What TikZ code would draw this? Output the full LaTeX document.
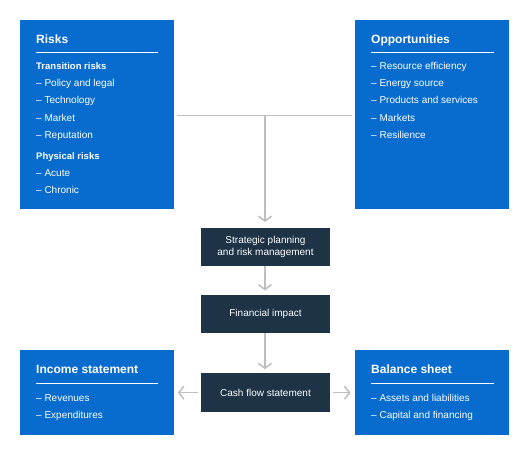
\documentclass[tikz,border=0pt]{standalone}
\usepackage{fontspec}
\setmainfont{Liberation Sans}
\usetikzlibrary{arrows.meta}
\definecolor{tcfdblue}{RGB}{7,108,206}
\definecolor{tcfdnavy}{RGB}{30,51,70}
\definecolor{conngray}{RGB}{190,190,190}
\begin{document}
\begin{tikzpicture}[x=1pt,y=-1pt,
  bluebox/.style={fill=tcfdblue,draw=none,minimum width=154pt,anchor=north west,inner sep=0pt},
  darkbox/.style={fill=tcfdnavy,draw=none,minimum width=129pt,minimum height=38.5pt,text=white,align=center,inner sep=0pt,font=\fontsize{10}{12.5}\selectfont},
  boxtitle/.style={anchor=base west,text=white,inner sep=0pt,font=\fontsize{12}{14}\selectfont\bfseries},
  subhead/.style={anchor=base west,text=white,inner sep=0pt,font=\fontsize{9.5}{11}\selectfont\bfseries},
  itemtext/.style={anchor=base west,text=white,inner sep=0pt,font=\fontsize{10}{12}\selectfont},
  titlerule/.style={draw=white,line width=1.5pt},
  conn/.style={draw=conngray,line width=1.5pt},
  connarrow/.style={conn,-{Straight Barb[length=5pt,width=13pt,line width=1.5pt]}}
]
\useasboundingbox (0,0) rectangle (528,453);
\fill[white] (0,0) rectangle (528,453);

% Blue boxes
\node[bluebox,minimum height=189pt] (risks) at (20,20) {};
\node[bluebox,minimum height=189pt] (opp) at (355,20) {};
\node[bluebox,minimum height=85pt] (inc) at (20,350) {};
\node[bluebox,minimum height=85pt] (bal) at (355,350) {};

% Dark boxes
\node[darkbox] (strat) at (265.5,247) {Strategic planning\\and risk management};
\node[darkbox] (fin) at (265.5,314) {Financial impact};
\node[darkbox] (cash) at (265.5,392.7) {Cash flow statement};

% Risks content
\node[boxtitle] (risksT) at (36,43) {Risks};
\draw[titlerule] (36,52.3) coordinate (r1) -- (158,52.3) coordinate (r2);
\node[subhead] (tr) at (36,69.5) {Transition risks};
\node[itemtext] (r_a) at (36,86.8) {– Policy and legal};
\node[itemtext] (r_b) at (36,103.9) {– Technology};
\node[itemtext] (r_c) at (36,121) {– Market};
\node[itemtext] (r_d) at (36,138.2) {– Reputation};
\node[subhead] (pr) at (36,159.2) {Physical risks};
\node[itemtext] (r_e) at (36,176.8) {– Acute};
\node[itemtext] (r_f) at (36,193.8) {– Chronic};

% Opportunities content
\node[boxtitle] (oppT) at (371,43) {Opportunities};
\draw[titlerule] (371,52.3) coordinate (o1) -- (493.5,52.3) coordinate (o2);
\node[itemtext] (o_a) at (371,69.5) {– Resource efficiency};
\node[itemtext] (o_b) at (371,86.8) {– Energy source};
\node[itemtext] (o_c) at (371,103.9) {– Products and services};
\node[itemtext] (o_d) at (371,121) {– Markets};
\node[itemtext] (o_e) at (371,138.2) {– Resilience};

% Income statement content
\node[boxtitle] (incT) at (36,373.6) {Income statement};
\draw[titlerule] (36,383.3) coordinate (i1) -- (158,383.3) coordinate (i2);
\node[itemtext] (i_a) at (36,401.8) {– Revenues};
\node[itemtext] (i_b) at (36,418.8) {– Expenditures};

% Balance sheet content
\node[boxtitle] (balT) at (371,373.6) {Balance sheet};
\draw[titlerule] (371,383.3) coordinate (b1) -- (493.5,383.3) coordinate (b2);
\node[itemtext] (b_a) at (371,401.8) {– Assets and liabilities};
\node[itemtext] (b_b) at (371,418.8) {– Capital and financing};

% Connectors
\coordinate (j) at (265,115.7);
\draw[conn] ([xshift=3pt]risks.east |- j) -- ([xshift=-3pt]opp.west |- j);
\draw[connarrow] (j) -- ([yshift=5.5pt]strat.north -| j);
\draw[connarrow] (strat.south -| j) -- ([yshift=4pt]fin.north -| j);
\draw[connarrow] (fin.south -| j) -- ([yshift=4pt]cash.north -| j);
\draw[connarrow] ([xshift=-3pt]cash.west) -- ([xshift=3.5pt]inc.east |- cash.west);
\draw[connarrow] ([xshift=3pt]cash.east) -- ([xshift=-4.5pt]bal.west |- cash.east);
\end{tikzpicture}
\end{document}
